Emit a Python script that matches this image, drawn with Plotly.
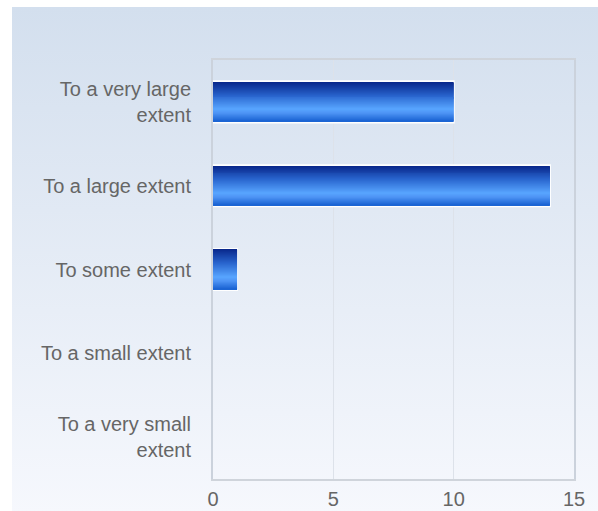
import plotly.graph_objects as go

categories = ["To a very large<br>extent", "To a large extent", "To some extent",
              "To a small extent", "To a very small<br>extent"]
values = [10, 14, 1, 0, 0]
x_ticks = [0, 5, 10, 15]

W, H = 598, 511
ML, MR, MT, MB = 213, 24, 60, 32
pw = W - ML - MR
ph = H - MT - MB

def lerp(c1, c2, f):
    return tuple(int(round(a + (b - a) * f)) for a, b in zip(c1, c2))

stops = [(0.0, (8, 38, 138)), (0.35, (40, 100, 205)), (0.70, (88, 165, 255)),
         (0.80, (78, 148, 245)), (1.0, (25, 98, 210))]

def grad(t):
    for (t0, c0), (t1, c1) in zip(stops[:-1], stops[1:]):
        if t <= t1:
            return "rgb(%d,%d,%d)" % lerp(c0, c1, (t - t0) / (t1 - t0))
    return "rgb(%d,%d,%d)" % stops[-1][1]

fig = go.Figure()
bw = 0.49
line_w = [2 if v > 0 else 0 for v in values]
fig.add_trace(go.Bar(y=categories, x=values, orientation="h", width=bw,
                     marker=dict(color="rgb(20,70,180)", line=dict(color="white", width=line_w)),
                     hoverinfo="skip", showlegend=False))
N = 40
inset = 0.012
h = (bw - 2 * inset) / N
for i in range(N):
    fig.add_trace(go.Bar(y=categories, x=values, orientation="h",
                         width=h * 1.05, offset=-bw / 2 + inset + i * h,
                         marker=dict(color=grad((i + 0.5) / N), line=dict(width=0)),
                         hoverinfo="skip", showlegend=False))

svg = ("data:image/svg+xml;utf8,<svg xmlns='http://www.w3.org/2000/svg' width='100' height='100' "
       "preserveAspectRatio='none'><defs><linearGradient id='g' x1='0' y1='0' x2='0' y2='1'>"
       "<stop offset='0' stop-color='%23d3dfee'/><stop offset='1' stop-color='%23f6f8fd'/>"
       "</linearGradient></defs><rect width='100' height='100' fill='url(%23g)'/></svg>")

x0 = (12 - ML) / pw
x1 = (W + 2 - ML) / pw
ytop = 1 + (MT - 7) / ph
ybot = -(MB + 2) / ph
fig.add_layout_image(dict(source=svg, xref="paper", yref="paper", x=x0, y=ytop,
                          sizex=x1 - x0, sizey=ytop - ybot, sizing="stretch",
                          xanchor="left", yanchor="top", layer="below"))

font = dict(family="Liberation Sans, Arial, sans-serif", size=20, color="#666666")
fig.update_layout(
    width=W, height=H, margin=dict(l=ML, r=MR, t=MT, b=MB, autoexpand=False),
    paper_bgcolor="white", plot_bgcolor="rgba(0,0,0,0)",
    barmode="overlay", bargap=0.5, font=font,
    xaxis=dict(range=[0, 15], tickvals=x_ticks, showgrid=True, gridcolor="#dde2ea",
               gridwidth=1, zeroline=False, showline=True, mirror=True, automargin=False,
               linecolor="#cfd4db", linewidth=2, ticks="", ticklabelstandoff=1,
               tickfont=font, fixedrange=True),
    yaxis=dict(autorange="reversed", showgrid=False, zeroline=False, showline=True,
               mirror=True, linecolor="#cbd2dc", linewidth=2, ticks="", automargin=False,
               ticklabelstandoff=16, tickfont=font, fixedrange=True),
)
fig.write_html("out.html")
